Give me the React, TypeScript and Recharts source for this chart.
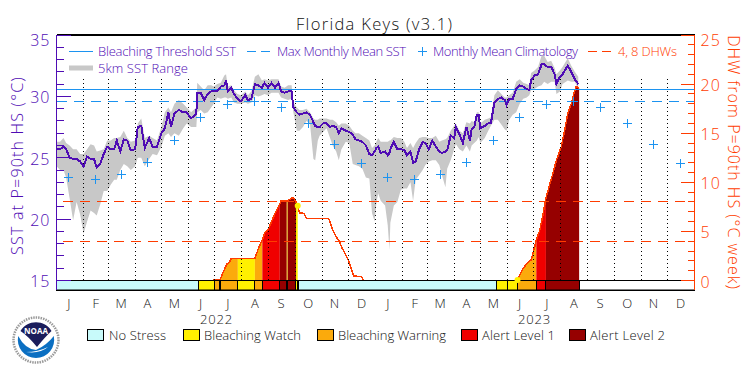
import {
    ComposedChart,
    Area,
    Line,
    Scatter,
    XAxis,
    YAxis,
    ReferenceLine,
    ReferenceArea,
} from "recharts";

const PURPLE = "#4f0cb4";
const RED = "#ff3c00";
const BLUE = "#1c93f0";
const GRAY = "#c8c8c8";
const FONT = "'Open Sans', sans-serif";

const sstDays = [
    0, 4, 8, 11, 15, 19, 23, 27, 31, 35, 39, 43, 46, 50, 54, 58, 62, 66, 69, 73, 77, 81, 85, 90, 93, 97, 101, 106, 110, 115, 120, 124, 128, 131, 135, 140, 145, 149, 154,
    160, 161, 165, 169, 173, 177, 180, 184, 188, 192, 194, 196, 200, 203, 207, 211, 216, 219, 223, 227, 231, 235, 238, 242, 246, 250, 254, 257, 261, 265, 269, 271, 275, 278, 282, 286, 290, 294, 296, 299, 301, 305, 309, 313, 316,
    320, 323, 326, 331, 335, 339, 342, 346, 350, 354, 358, 361, 364, 366, 368, 371, 376, 379, 381, 382, 386, 390, 394, 398, 401, 405, 408, 411, 415, 419, 422, 426, 430, 434, 438, 441, 445, 447, 451, 455, 457, 461, 465, 469,
    473, 475, 478, 481, 483, 485, 490, 494, 497, 501, 505, 509, 513, 515, 518, 522, 526, 530, 534, 538, 541, 543, 547, 551, 555, 558, 562, 566, 570, 572, 576, 579, 585, 589, 593, 597,
];
const sstValues = [
    25.7, 25.7, 25.9, 25.7, 25.0, 24.9, 24.9, 24.7, 24.3, 25.1, 24.9, 24.9, 24.2, 24.5, 25.3, 25.9, 25.7, 25.7, 26.4, 25.5, 26.5, 26.4, 25.6, 25.7, 27.5, 27.6, 25.8, 26.6, 25.9, 25.9, 27.0, 27.4, 28.7, 27.5, 28.6, 28.9, 28.7, 28.7, 28.2,
    28.6, 30.3, 30.3, 29.7, 30.2, 30.4, 30.4, 30.4, 30.8, 30.9, 31.3, 30.4, 30.7, 30.2, 29.8, 29.6, 30.1, 29.7, 29.8, 31.0, 30.9, 30.7, 31.1, 30.7, 31.1, 30.7, 31.1, 30.4, 30.3, 30.4, 30.4, 29.1, 28.7, 28.5, 28.6, 28.7, 28.5, 27.9, 27.6, 27.5, 27.5, 27.8, 27.8, 27.5, 27.6,
    27.5, 27.0, 27.4, 27.2, 27.1, 26.9, 26.5, 26.4, 26.3, 26.0, 25.3, 25.2, 25.5, 25.8, 25.9, 25.4, 25.5, 25.2, 25.4, 25.7, 26.3, 25.7, 25.7, 25.6, 25.2, 25.5, 24.6, 24.7, 25.7, 26.3, 26.2, 25.7, 26.4, 25.9, 25.5, 25.4, 25.5, 25.6, 26.8, 26.6, 27.5, 26.9, 26.2, 27.5,
    26.4, 27.3, 27.5, 28.5, 28.5, 27.4, 27.6, 27.8, 27.8, 29.5, 29.8, 29.9, 29.7, 29.3, 29.8, 29.8, 30.6, 30.9, 30.8, 30.6, 30.5, 31.3, 31.7, 31.8, 32.6, 32.6, 32.4, 32.4, 31.8, 31.0, 31.6, 31.8, 32.5, 32.0, 31.4, 31.0,
];
const sstHigh = [
    26.3, 26.3, 26.6, 26.2, 26.0, 25.7, 25.7, 25.3, 25.3, 25.7, 26.1, 26.0, 25.5, 25.6, 25.7, 26.4, 26.4, 26.6, 26.6, 26.7, 27.2, 26.6, 26.3, 26.4, 27.8, 28.2, 26.6, 26.8, 26.6, 26.4, 27.5, 28.7, 29.1, 28.7, 29.4, 29.7, 29.4, 29.1, 28.7,
    29.1, 31.1, 30.8, 30.5, 30.9, 30.9, 30.8, 31.0, 31.1, 31.7, 31.8, 30.8, 30.9, 30.5, 30.2, 30.1, 30.4, 30.1, 30.4, 31.6, 31.8, 31.3, 31.4, 31.3, 31.4, 31.4, 31.4, 30.8, 30.7, 30.9, 30.9, 29.5, 29.1, 28.9, 28.9, 29.0, 28.7, 28.2, 28.1, 28.1, 28.2, 28.2, 28.2, 28.1, 28.1,
    27.9, 27.6, 27.8, 27.8, 27.6, 27.2, 27.0, 27.0, 26.8, 26.6, 26.4, 25.8, 26.0, 26.3, 26.6, 26.3, 26.3, 26.3, 26.4, 26.4, 26.7, 26.6, 26.6, 26.3, 25.8, 26.2, 25.8, 26.2, 26.6, 26.7, 26.7, 26.6, 26.6, 26.8, 26.3, 26.4, 26.5, 26.6, 27.2, 27.6, 27.8, 27.2, 27.0, 27.9,
    27.8, 28.0, 27.9, 28.7, 28.7, 27.8, 28.1, 28.2, 28.3, 30.1, 30.5, 30.2, 29.9, 29.9, 30.1, 30.3, 31.2, 31.4, 31.1, 31.0, 30.9, 31.9, 32.1, 32.4, 33.3, 33.3, 32.8, 32.9, 32.3, 31.8, 32.1, 32.4, 33.1, 32.5, 32.0, 31.6,
];
const sstLow = [
    24.3, 24.0, 24.0, 23.4, 21.7, 19.9, 21.4, 20.4, 18.8, 19.8, 20.7, 20.5, 20.3, 21.2, 22.3, 22.3, 22.8, 23.2, 23.2, 24.0, 24.5, 24.3, 24.0, 24.3, 25.0, 25.0, 24.3, 24.9, 25.3, 25.2, 25.9, 26.8, 27.0, 26.7, 27.0, 26.8, 27.4, 27.8, 27.5,
    27.5, 28.7, 28.9, 28.6, 28.7, 29.1, 29.4, 29.9, 29.8, 29.9, 29.9, 29.8, 29.9, 29.5, 29.4, 29.4, 29.5, 29.4, 29.5, 30.1, 30.0, 30.1, 30.2, 30.1, 30.3, 30.3, 30.3, 29.9, 29.8, 29.7, 29.8, 28.7, 27.2, 27.2, 27.5, 28.0, 27.8, 24.9, 24.8, 26.4, 26.8, 27.1, 27.4, 26.6, 26.0,
    25.5, 24.8, 25.7, 26.3, 26.2, 24.5, 24.4, 24.3, 24.1, 23.4, 23.3, 20.5, 19.8, 21.3, 22.1, 21.5, 21.1, 19.5, 17.5, 19.7, 21.1, 21.4, 22.4, 22.5, 22.5, 23.0, 21.5, 23.2, 23.6, 24.0, 24.4, 24.7, 24.8, 24.8, 24.4, 23.6, 22.6, 24.1, 24.8, 25.7, 26.1, 25.7, 25.5, 26.0,
    25.5, 26.0, 26.2, 26.4, 26.7, 26.2, 26.6, 27.2, 27.6, 28.1, 28.1, 27.7, 27.3, 27.2, 28.1, 28.5, 28.7, 29.4, 29.8, 29.9, 30.1, 30.5, 30.6, 30.8, 30.9, 31.2, 31.0, 31.2, 31.2, 30.2, 30.4, 31.0, 31.3, 31.2, 31.2, 30.6,
];

const dhw2022Days = [179, 180.5, 186.5, 187.5, 188.5, 191, 195, 198, 200, 204, 207.5, 227, 229, 231.5, 234.5, 235.5, 238, 242, 246, 250, 254, 255.5, 257, 263.5, 264.5, 269, 271.5, 274, 276, 278, 283, 286, 311, 313, 316, 320, 324, 326, 330, 334, 337, 340, 349, 351];
const dhw2022Values = [0.12, 0.12, 0.12, 0.15, 0.33, 0.9, 1.68, 1.88, 2.26, 2.26, 2.26, 2.26, 2.76, 3.37, 3.95, 4.15, 4.8, 5.2, 5.98, 6.83, 7.5, 7.8, 8.12, 8.12, 8.1, 8.42, 8.42, 8.0, 7.6, 6.9, 6.83, 6.32, 6.32, 5.98, 5.13, 4.46, 3.95, 3.44, 2.76, 2.09, 1.24, 0.46, 0.39, 0.05];
const dhw2023Days = [527.5, 530, 534, 539, 543, 547, 549, 553, 556.5, 560, 564, 568, 572, 577.5, 581, 585, 589, 593, 594.6, 597.3, 598];
const dhw2023Values = [0.05, 0.56, 1.24, 1.82, 2.09, 3.37, 4.12, 5.13, 6.66, 8.35, 9.7, 10.9, 12.25, 13.6, 15.12, 16.98, 18, 19.35, 19.76, 19.63, 19.6];

const climDays = [14, 45, 74, 104, 135, 165, 196, 227, 257, 288, 318, 349, 379, 410, 439, 469, 500, 530, 561, 592, 622, 653, 683, 714];
const climValues = [23.4, 23.2, 23.6, 24.6, 26.4, 28.3, 29.3, 29.6, 29.1, 27.8, 26.1, 24.5, 23.4, 23.2, 23.6, 24.6, 26.4, 28.3, 29.3, 29.6, 29.1, 27.8, 26.1, 24.5];

const statusNames = ["No Stress", "Bleaching Watch", "Bleaching Warning", "Alert Level 1", "Alert Level 2"];
const statusColors = ["#c8fafa", "#fff000", "#fbaa0c", "#f00000", "#960000"];
const statusStarts = [0, 162, 180.5, 186.5, 187.5, 207.5, 227, 235.5, 255.5, 263.5, 264.5, 274, 276, 277, 503.6, 516, 527.5, 549, 560];
const statusEnds = [162, 180.5, 186.5, 187.5, 207.5, 227, 235.5, 255.5, 263.5, 264.5, 274, 276, 277, 503.6, 516, 527.5, 549, 560, 598];
const statusLevels = [0, 1, 2, 1, 2, 1, 2, 3, 4, 1, 4, 1, 1, 0, 1, 1, 2, 3, 4];

const monthLabels = ["J", "F", "M", "A", "M", "J", "J", "A", "S", "O", "N", "D"];
const monthTicks = [14, 45, 74, 104, 135, 165, 196, 227, 257, 288, 318, 349, 379, 410, 439, 469, 500, 530, 561, 592, 622, 653, 683, 714];
const monthEnds = [31, 59, 90, 120, 151, 181, 212, 243, 273, 304, 334, 365, 396, 424, 455, 485, 516, 546, 577, 608, 638, 669, 699];
const yearTicks = [183, 547];
const yearLabels = ["2022", "2023"];
const sstTicks = [15, 16, 17, 18, 19, 20, 21, 22, 23, 24, 25, 26, 27, 28, 29, 30, 31, 32, 33, 34, 35];
const dhwTicks = [0, 1, 2, 3, 4, 5, 6, 7, 8, 9, 10, 11, 12, 13, 14, 15, 16, 17, 18, 19, 20, 21, 22, 23, 24, 25];

const bleachingThreshold = 30.55;
const maxMonthlyMean = 29.55;
const dhwLevels = [4, 8];

const sstData = sstDays.map((day, i) => ({ day, sst: sstValues[i], range: [sstLow[i], sstHigh[i]] }));
const dhw2022 = dhw2022Days.map((day, i) => ({ day, dhw: dhw2022Values[i] }));
const dhw2023 = dhw2023Days.map((day, i) => ({ day, dhw: dhw2023Values[i] }));
const dhwAll = [...dhw2022, ...dhw2023];
const climData = climDays.map((day, i) => ({ day, clim: climValues[i] }));

function SstTick({ x, y, payload }: any) {
    const major = payload.value % 5 === 0;
    return (
        <g>
            <line x1={x} x2={x + (major ? 14 : 7)} y1={y} y2={y} stroke={PURPLE} shapeRendering="crispEdges" />
            {major && (
                <text x={x - 6} y={y + (payload.value === 35 ? 11 : 7)} textAnchor="end" fontSize={16} letterSpacing={1} fill={PURPLE} fontFamily={FONT} fontWeight={300}>
                    {payload.value}
                </text>
            )}
        </g>
    );
}

function DhwTick({ x, y, payload }: any) {
    const major = payload.value % 5 === 0;
    return (
        <g>
            <line x1={x} x2={x - (major ? 14 : 7)} y1={y} y2={y} stroke={RED} shapeRendering="crispEdges" />
            {major && (
                <text x={x + 6} y={y + (payload.value === 25 ? 11 : 7)} textAnchor="start" fontSize={16} letterSpacing={1} fill={RED} fontFamily={FONT} fontWeight={300}>
                    {payload.value}
                </text>
            )}
        </g>
    );
}

function ClimCross({ cx, cy }: any) {
    return (
        <path d={`M${cx - 4.5} ${cy}H${cx + 4.5}M${cx} ${cy - 4.5}V${cy + 4.5}`} stroke={BLUE} strokeWidth={1} fill="none" shapeRendering="crispEdges" />
    );
}

function LegendText({ x, y, width, fill, children }: any) {
    return (
        <text x={x} y={y} textLength={width} lengthAdjust="spacing" fontSize={13} fontWeight={300} fill={fill} fontFamily={FONT}>
            {children}
        </text>
    );
}

function NoaaLogo() {
    return (
        <g>
            <circle cx={36} cy={340} r={22.5} fill="#fff" stroke="#9a9a9a" strokeWidth={2.5} strokeDasharray="1.5 1" />
            <path d="M20.5 331 A18 18 0 0 1 51.5 331 Q45 337 37 347 Q28 336 20.5 331Z" fill="#1b1d5c" />
            <path d="M18.2 336 Q25 349 36 350 Q47 345 53.8 336 A18.2 18.2 0 1 1 18.2 336Z" fill="#0b6fc2" />
            <path d="M26 352 Q38 352 48 347 Q40 354 26 352Z" fill="#fff" />
            <text x={36} y={334} textAnchor="middle" fontSize={8} fontWeight={700} fill="#fff" fontFamily={FONT}>
                NOAA
            </text>
        </g>
    );
}

export default function App() {
    return (
        <div style={{ position: "absolute", left: 0, top: 0, width: 750, height: 375, background: "#fff" }}>
            <ComposedChart
                width={750}
                height={375}
                data={sstData}
                margin={{ top: 35, right: 0, left: 0, bottom: 49 }}
            >
                <XAxis
                    dataKey="day"
                    type="number"
                    domain={[0, 730]}
                    ticks={monthTicks}
                    interval={0}
                    height={18}
                    stroke="#000"
                    tickLine={false}
                    tickMargin={3}
                    tick={{ fontSize: 13, fill: "#111", fontFamily: FONT, fontWeight: 300 }}
                    tickFormatter={(v: number) => monthLabels[monthTicks.indexOf(v) % 12]}
                />
                <XAxis
                    xAxisId="year"
                    dataKey="day"
                    type="number"
                    domain={[0, 730]}
                    ticks={yearTicks}
                    interval={0}
                    height={18}
                    axisLine={false}
                    tickLine={false}
                    tickMargin={1}
                    tick={{ fontSize: 13, fill: "#111", fontFamily: FONT, fontWeight: 300, letterSpacing: 0.8 }}
                    tickFormatter={(v: number) => yearLabels[yearTicks.indexOf(v)]}
                />
                <YAxis
                    yAxisId="sst"
                    domain={[14.226, 35]}
                    ticks={sstTicks}
                    interval={0}
                    width={56.5}
                    stroke={PURPLE}
                    tickLine={false}
                    tickSize={0}
                    tickMargin={0}
                    tick={<SstTick />}
                    label={{
                        value: "SST at P=90th HS (°C)",
                        angle: -90,
                        position: "center",
                        dx: -11,
                        dy: 3,
                        style: { fontSize: 16, fontWeight: 300, fill: PURPLE, fontFamily: FONT, letterSpacing: 1.2 },
                    }}
                />
                <YAxis
                    yAxisId="dhw"
                    orientation="right"
                    domain={[-0.967, 25]}
                    ticks={dhwTicks}
                    interval={0}
                    width={55.5}
                    stroke={RED}
                    tickLine={false}
                    tickSize={0}
                    tickMargin={0}
                    tick={<DhwTick />}
                    label={{
                        value: "DHW from P=90th HS (°C week)",
                        angle: 90,
                        position: "center",
                        dx: 11,
                        style: { fontSize: 16, fontWeight: 300, fill: RED, fontFamily: FONT, letterSpacing: 1 },
                    }}
                />

                <Area yAxisId="sst" dataKey="range" stroke="none" fill={GRAY} fillOpacity={1} dot={false} activeDot={false} isAnimationActive={false} />

                {statusStarts.map((start, i) =>
                    statusLevels[i] > 0 ? (
                        <Area
                            key={`fill-${i}`}
                            yAxisId="dhw"
                            data={dhwAll.filter((p) => p.day >= start && p.day <= statusEnds[i])}
                            dataKey="dhw"
                            stroke="none"
                            fill={statusColors[statusLevels[i]]}
                            fillOpacity={1}
                            dot={false}
                            activeDot={false}
                            isAnimationActive={false}
                        />
                    ) : null
                )}
                <Line yAxisId="dhw" data={dhw2022} dataKey="dhw" stroke={RED} strokeWidth={1.5} dot={false} activeDot={false} isAnimationActive={false} shapeRendering="crispEdges" />
                <Line yAxisId="dhw" data={dhw2023} dataKey="dhw" stroke={RED} strokeWidth={1.5} dot={false} activeDot={false} isAnimationActive={false} shapeRendering="crispEdges" />

                {statusStarts.map((start, i) => (
                    <ReferenceArea
                        key={`status-${i}`}
                        yAxisId="dhw"
                        x1={start}
                        x2={statusEnds[i]}
                        y1={-0.967}
                        y2={0}
                        fill={statusColors[statusLevels[i]]}
                        fillOpacity={1}
                        stroke="#000"
                        shapeRendering="crispEdges"
                    />
                ))}
                <ReferenceArea yAxisId="dhw" x1={598} x2={730} y1={-0.967} y2={0} fill="#fff" fillOpacity={1} stroke="#000" shapeRendering="crispEdges" />

                {monthEnds.map((day) => (
                    <ReferenceLine
                        key={day}
                        yAxisId="sst"
                        segment={[{ x: day, y: 15 }, { x: day, y: 31.6 }]}
                        stroke="#000"
                        strokeWidth={1}
                        strokeDasharray="1 3"
                        shapeRendering="crispEdges"
                    />
                ))}
                <ReferenceLine yAxisId="sst" y={35} stroke="#000" strokeWidth={1.5} shapeRendering="crispEdges" />
                <ReferenceLine yAxisId="sst" y={bleachingThreshold} stroke={BLUE} shapeRendering="crispEdges" />
                <ReferenceLine yAxisId="sst" y={maxMonthlyMean} stroke={BLUE} strokeDasharray="10 7" shapeRendering="crispEdges" />
                {dhwLevels.map((level) => (
                    <ReferenceLine
                        key={level}
                        yAxisId="dhw"
                        segment={[{ x: 7, y: level }, { x: 730, y: level }]}
                        stroke={RED}
                        strokeDasharray="10 7"
                        shapeRendering="crispEdges"
                    />
                ))}

                <Scatter yAxisId="sst" data={climData} dataKey="clim" shape={<ClimCross />} isAnimationActive={false} />
                <Line yAxisId="sst" dataKey="sst" stroke={PURPLE} strokeWidth={2} dot={false} activeDot={false} isAnimationActive={false} shapeRendering="crispEdges" />
            </ComposedChart>

            <svg width={750} height={375} style={{ position: "absolute", left: 0, top: 0, pointerEvents: "none" }}>
                <text x={296} y={30} textLength={156} lengthAdjust="spacing" fontSize={16.5} fontWeight={300} fill="#111" fontFamily={FONT}>
                    Florida Keys (v3.1)
                </text>

                <line x1={69} x2={93} y1={51.5} y2={51.5} stroke={BLUE} />
                <LegendText x={98} y={56} width={138} fill={PURPLE}>Bleaching Threshold SST</LegendText>
                <line x1={247} x2={270} y1={51.5} y2={51.5} stroke={BLUE} strokeDasharray="9 5" />
                <LegendText x={277} y={56} width={129} fill={PURPLE}>Max Monthly Mean SST</LegendText>
                <ClimCross cx={422} cy={51.5} />
                <LegendText x={433} y={56} width={145} fill={PURPLE}>Monthly Mean Climatology</LegendText>
                <line x1={588} x2={612} y1={51.5} y2={51.5} stroke={RED} strokeDasharray="9 5" />
                <LegendText x={618} y={56} width={59} fill={RED}>4, 8 DHWs</LegendText>
                <rect x={69} y={65.5} width={24} height={5} fill={GRAY} />
                <LegendText x={98} y={73} width={90} fill={PURPLE}>5km SST Range</LegendText>

                {[87.5, 183.5, 317.5, 461.5, 569.5].map((x, i) => (
                    <rect key={x} x={x} y={329.5} width={16} height={11} fill={statusColors[i]} stroke="#000" />
                ))}
                {[109, 204, 338, 482, 590].map((x, i) => (
                    <LegendText key={x} x={x} y={340} width={[57, 97, 108, 73, 75][i]} fill="#111">
                        {statusNames[i]}
                    </LegendText>
                ))}

                <NoaaLogo />
            </svg>
        </div>
    );
}
